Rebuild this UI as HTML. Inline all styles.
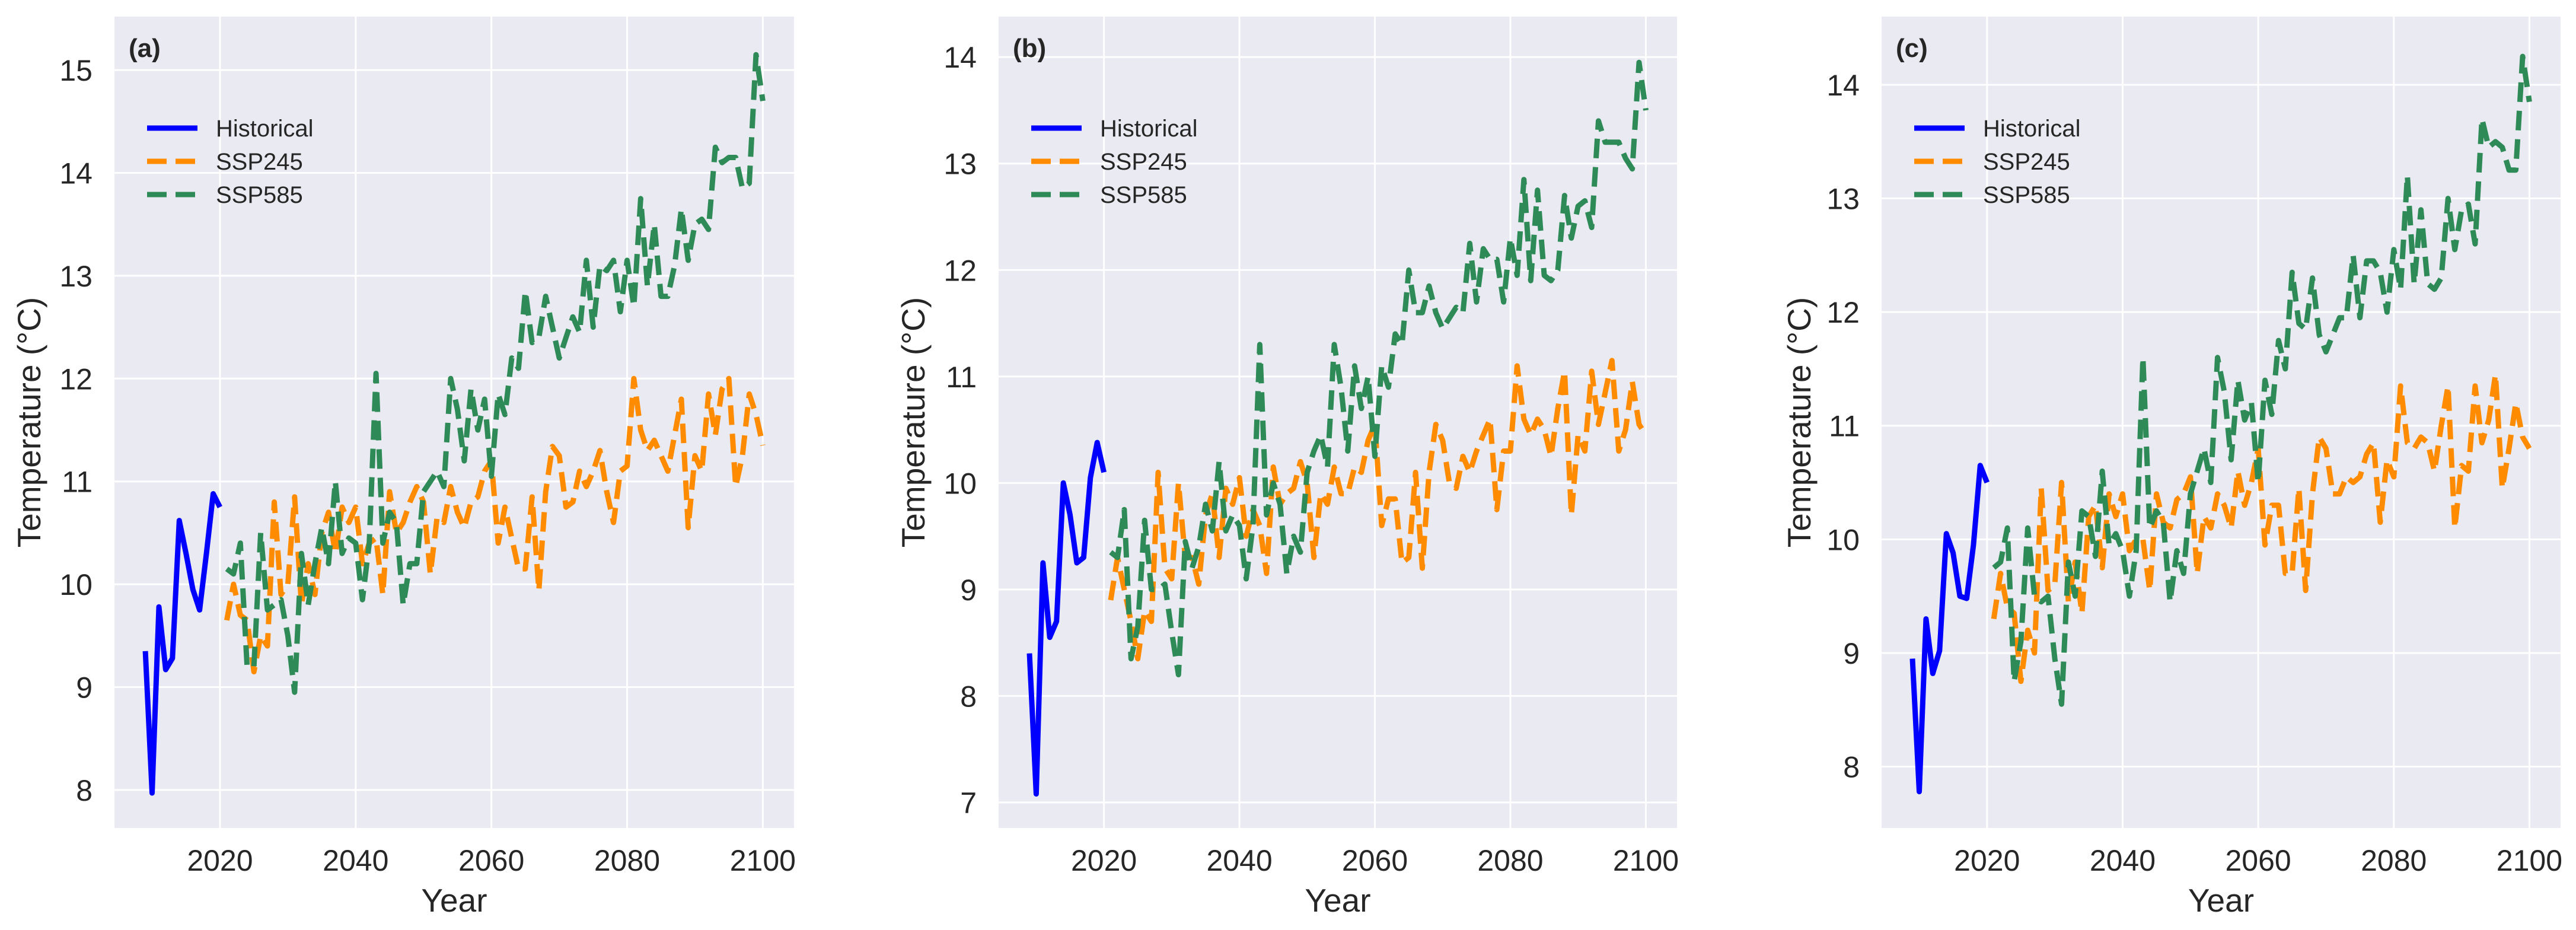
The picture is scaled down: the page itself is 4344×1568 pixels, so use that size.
<!DOCTYPE html>
<html><head><meta charset="utf-8"><style>
html,body{margin:0;padding:0;background:#fff;}
svg{display:block;font-family:"Liberation Sans",Arial,sans-serif;}
</style></head><body>
<svg id="fig" width="4344" height="1568" viewBox="0 0 4344 1568" xmlns="http://www.w3.org/2000/svg"></svg>
<script>
const years = [];
for (let y = 2009; y <= 2100; y++) years.push(y);
const histYears = years.filter(y => y <= 2020);
const projYears = years.filter(y => y >= 2021);

const histA = [9.35,7.97,9.78,9.17,9.28,10.62,10.3,9.95,9.75,10.3,10.88,10.75];
const ssp245A = [9.65,10.0,9.7,9.65,9.15,9.5,9.4,10.8,9.9,10.0,10.85,9.8,10.2,9.9,10.5,10.7,10.3,10.75,10.6,10.75,
10.2,10.4,10.45,9.9,10.9,10.5,10.6,10.8,10.95,10.8,10.1,10.65,10.6,10.95,10.7,10.55,10.8,10.85,11.1,11.2,
10.4,10.75,10.45,10.15,10.15,10.85,9.94,10.9,11.34,11.25,10.75,10.8,11.1,10.95,11.1,11.3,10.9,10.6,11.1,11.15,
12.0,11.5,11.3,11.4,11.25,11.1,11.45,11.8,10.55,11.25,11.1,11.85,11.45,11.9,12.0,10.95,11.25,11.85,11.65,11.35];
const ssp585A = [10.15,10.1,10.4,9.2,9.2,10.5,9.75,9.8,9.85,9.5,8.95,10.3,9.8,10.2,10.55,10.2,11.0,10.3,10.45,10.4,
9.85,10.4,12.05,10.4,10.7,10.6,9.8,10.2,10.2,10.9,11.0,11.1,10.95,12.0,11.7,11.2,11.9,11.5,11.8,11.05,
11.85,11.65,12.2,12.1,12.85,12.35,12.4,12.8,12.5,12.2,12.4,12.6,12.45,13.15,12.5,13.1,13.05,13.15,12.65,13.15,
12.7,13.75,12.9,13.5,12.8,12.8,13.1,13.65,13.15,13.5,13.55,13.45,14.25,14.1,14.15,14.15,13.85,13.9,15.15,14.7];

const histB = [8.4,7.08,9.25,8.55,8.7,10.0,9.7,9.25,9.3,10.05,10.38,10.1];
const ssp245B = [8.9,9.3,9.0,8.7,8.35,8.8,8.7,10.1,9.2,9.1,10.0,9.3,9.3,9.05,9.7,9.9,9.3,9.95,9.8,10.05,
9.5,9.75,9.6,9.15,10.15,9.8,9.9,9.95,10.2,10.0,9.3,9.9,9.8,10.15,9.9,9.9,10.15,10.1,10.4,10.55,
9.6,9.85,9.85,9.25,9.3,10.1,9.2,10.1,10.55,10.4,10.0,9.95,10.25,10.1,10.3,10.45,10.6,9.75,10.3,10.3,
11.1,10.6,10.45,10.6,10.5,10.25,10.7,11.05,9.7,10.45,10.3,11.05,10.55,10.85,11.15,10.3,10.5,10.95,10.55,10.45];
const ssp585B = [9.35,9.3,9.75,8.35,8.65,9.65,9.0,9.0,9.05,8.6,8.2,9.45,9.2,9.4,9.8,9.55,10.2,9.55,9.7,9.6,
9.1,9.6,11.3,9.7,10.0,9.8,9.15,9.5,9.35,10.1,10.3,10.45,10.15,11.3,10.9,10.3,11.1,10.7,11.0,10.25,
11.1,10.9,11.4,11.3,12.0,11.6,11.6,11.85,11.6,11.45,11.55,11.65,11.6,12.25,11.7,12.2,12.1,12.1,11.7,12.3,
11.95,12.85,11.9,12.75,11.95,11.9,12.0,12.7,12.3,12.6,12.65,12.4,13.4,13.2,13.2,13.2,13.05,12.95,13.95,13.5];

const histC = [8.95,7.78,9.3,8.82,9.02,10.05,9.88,9.5,9.48,9.95,10.65,10.5];
const ssp245C = [9.3,9.7,9.4,9.35,8.75,9.2,9.0,10.45,9.55,9.6,10.5,9.45,9.8,9.35,10.2,10.3,9.75,10.4,10.2,10.4,
9.9,10.0,10.0,9.55,10.4,10.15,10.1,10.35,10.4,10.55,9.7,10.2,10.1,10.4,10.3,10.1,10.6,10.3,10.5,10.8,
9.95,10.3,10.3,9.7,9.7,10.45,9.55,10.4,10.9,10.8,10.4,10.4,10.55,10.5,10.55,10.75,10.85,10.15,10.7,10.55,
11.35,10.85,10.8,10.9,10.85,10.6,11.0,11.35,10.1,10.65,10.6,11.35,10.85,11.05,11.45,10.45,10.8,11.2,10.9,10.8];
const ssp585C = [9.75,9.8,10.1,8.75,9.1,10.1,9.5,9.45,9.5,8.95,8.55,9.8,9.5,10.25,10.2,9.85,10.6,9.95,10.05,9.9,
9.5,9.9,11.6,10.1,10.25,10.15,9.45,9.9,9.7,10.4,10.6,10.8,10.5,11.6,11.3,10.7,11.4,11.05,11.2,10.5,
11.4,11.1,11.75,11.5,12.35,11.9,11.85,12.3,11.8,11.65,11.8,11.95,11.95,12.5,11.95,12.45,12.45,12.35,12.0,12.55,
12.2,13.2,12.25,12.9,12.25,12.2,12.3,13.0,12.55,12.9,12.95,12.6,13.7,13.45,13.5,13.45,13.25,13.25,14.25,13.85];

const xTicks = [2020,2040,2060,2080,2100];
const yTicksA = [8,9,10,11,12,13,14,15];
const yTicksB = [7,8,9,10,11,12,13,14];
const yTicksC = [8,9,10,11,12,13,14];
const panelLabels = ["(a)","(b)","(c)"];
const legendLabels = ["Historical","SSP245","SSP585"];

const NS = "http://www.w3.org/2000/svg";
const svg = document.getElementById("fig");
function mk(tag, attrs, parent) {
  const e = document.createElementNS(NS, tag);
  for (const k in attrs) e.setAttribute(k, attrs[k]);
  (parent || svg).appendChild(e);
  return e;
}

const panels = [
  {left:193, right:1339, ymin:7.63, ymax:15.52, yt:yTicksA, hist:histA, s245:ssp245A, s585:ssp585A, ytx:49},
  {left:1684, right:2828, ymin:6.76, ymax:14.38, yt:yTicksB, hist:histB, s245:ssp245B, s585:ssp585B, ytx:1540},
  {left:3173, right:4318, ymin:7.46, ymax:14.6, yt:yTicksC, hist:histC, s245:ssp245C, s585:ssp585C, ytx:3034}
];
const plotTop = 28, plotBottom = 1396;
const xMin = 2004.45, xMax = 2104.6;

panels.forEach((p, i) => {
  const g = mk("g", {});
  
  
  const xs = v => p.left + (v - xMin) / (xMax - xMin) * (p.right - p.left);
  const ys = v => plotBottom - (v - p.ymin) / (p.ymax - p.ymin) * (plotBottom - plotTop);

  const bg = mk("rect", {x:p.left, y:plotTop, width:p.right-p.left, height:plotBottom-plotTop, fill:"#eaeaf2"}, g);
  
  

  xTicks.forEach(t => {
    const ln = mk("line", {x1:xs(t), x2:xs(t), y1:plotTop, y2:plotBottom, stroke:"#fff", "stroke-width":3}, g);
    
    
    const tx = mk("text", {x:xs(t), y:1468, "text-anchor":"middle", "font-size":50, fill:"#262626"}, g);
    
    
    tx.textContent = t;
  });
  p.yt.forEach(t => {
    const ln = mk("line", {x1:p.left, x2:p.right, y1:ys(t), y2:ys(t), stroke:"#fff", "stroke-width":3}, g);
    
    
    const tx = mk("text", {x:p.left-37, y:ys(t)+18, "text-anchor":"end", "font-size":50, fill:"#262626"}, g);
    
    
    tx.textContent = t;
  });

  const xt = mk("text", {x:(p.left+p.right)/2, y:1537, "text-anchor":"middle", "font-size":55, fill:"#262626"}, g);
  
  
  xt.textContent = "Year";
  const yt = mk("text", {x:0, y:0, "text-anchor":"middle", "font-size":55, fill:"#262626",
    transform:`translate(${p.ytx+19},${(plotTop+plotBottom)/2}) rotate(-90)`}, g);
  
  
  yt.textContent = "Temperature (°C)";

  const lbl = mk("text", {x:p.left+24, y:96, "font-size":44, "font-weight":"bold", fill:"#262626"}, g);
  
  
  lbl.textContent = panelLabels[i];

  const series = [
    {yrs:histYears, vals:p.hist, color:"#0000ff", dash:null, name:"historical-line"},
    {yrs:projYears, vals:p.s245, color:"#ff8c00", dash:"33 15", name:"ssp245-line"},
    {yrs:projYears, vals:p.s585, color:"#2e8b57", dash:"33 15", name:"ssp585-line"}
  ];
  series.forEach(s => {
    const d = s.vals.map((v, k) => (k ? "L" : "M") + xs(s.yrs[k]).toFixed(1) + "," + ys(v).toFixed(1)).join(" ");
    const attrs = {d:d, fill:"none", stroke:s.color, "stroke-width":9, "stroke-linejoin":"round"};
    if (s.dash) attrs["stroke-dasharray"] = s.dash;
    const path = mk("path", attrs, g);
    
    
  });

  const lg = mk("g", {}, g);
  
  
  const rowY = [216, 272, 328];
  series.forEach((s, k) => {
    const la = {x1:p.left+55, x2:p.left+140, y1:rowY[k], y2:rowY[k], stroke:s.color, "stroke-width":9};
    if (s.dash) la["stroke-dasharray"] = "33 15";
    const ln = mk("line", la, lg);
    
    
    const tx = mk("text", {x:p.left+171, y:rowY[k]+14, "font-size":40, fill:"#262626"}, lg);
    
    
    tx.textContent = legendLabels[k];
  });
});
</script>
</body></html>
